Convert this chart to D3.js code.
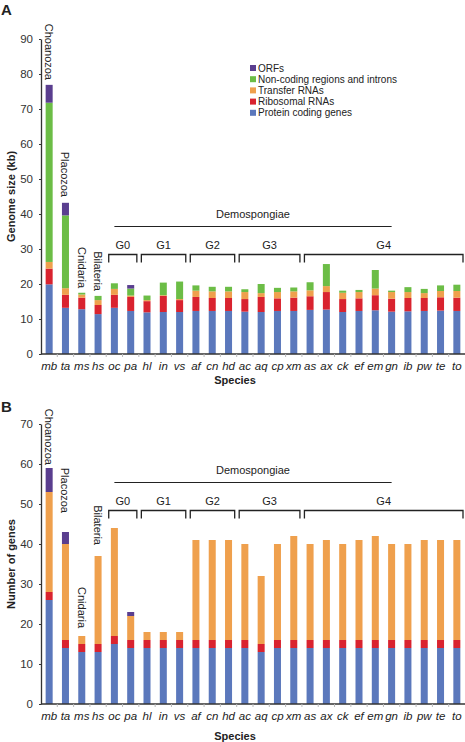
<!DOCTYPE html>
<html>
<head>
<meta charset="utf-8">
<script src="https://cdn.jsdelivr.net/npm/d3@7"></script>
<style>
  body { margin: 0; background: #fff; }
  svg { display: block; font-family: "Liberation Sans", Arial, sans-serif; }
</style>
</head>
<body>
<svg id="chart" width="465" height="742"></svg>
<script>
// ---------- DATA ----------
const species = ["mb","ta","ms","hs","oc","pa","hl","in","vs","af","cn","hd","ac","aq","cp","xm","as","ax","ck","ef","em","gn","ib","pw","te","to"];
const seriesNames = ["Protein coding genes","Ribosomal RNAs","Transfer RNAs","Non-coding regions and introns","ORFs"];
const seriesColors = ["#5b78bc","#d9232f","#efa04d","#6cbd46","#5a3e8f"];

// Panel A: genome size (kb)
const sizeProtein = [19.9,13.2,12.8,11.4,13.2,12.3,11.9,12.0,12.0,12.3,12.3,12.3,12.1,12.0,12.3,12.3,12.6,12.7,12.0,12.3,12.5,12.1,12.2,12.3,12.4,12.3];
const sizeRibo    = [4.5,3.7,3.3,2.6,3.7,4.0,3.2,4.6,3.4,4.0,3.7,3.7,3.6,4.3,3.6,3.8,3.9,5.0,3.7,3.6,4.3,3.7,3.8,3.7,3.8,3.8];
const sizeTrna    = [1.9,1.9,0.9,1.4,1.7,0.4,0.3,0.2,0.3,1.8,1.9,1.9,2.0,1.1,1.8,1.8,1.7,1.7,1.8,1.8,1.9,1.9,1.7,1.4,1.8,1.9];
const sizeNoncod  = [45.5,20.8,0.5,1.2,1.6,2.0,1.3,3.6,5.0,1.5,1.3,1.3,0.8,2.6,1.2,1.1,2.3,6.3,0.6,0.6,5.3,0.4,1.4,1.2,1.6,1.8];
const sizeOrf     = [5.1,3.6,0,0,0,1.0,0,0,0,0,0,0,0,0,0,0,0,0,0,0,0,0,0,0,0,0];

// Panel B: number of genes
const genesProtein = [26,14,13,13,15,14,14,14,14,14,14,14,14,13,14,14,14,14,14,14,14,14,14,14,14,14];
const genesRibo    = [2,2,2,2,2,2,2,2,2,2,2,2,2,2,2,2,2,2,2,2,2,2,2,2,2,2];
const genesTrna    = [25,24,2,22,27,6,2,2,2,25,25,25,24,17,24,26,24,25,24,25,26,24,24,25,25,25];
const genesNoncod  = [0,0,0,0,0,0,0,0,0,0,0,0,0,0,0,0,0,0,0,0,0,0,0,0,0,0];
const genesOrf     = [6,3,0,0,0,1,0,0,0,0,0,0,0,0,0,0,0,0,0,0,0,0,0,0,0,0];

const ticksA = [0,10,20,30,40,50,60,70,80,90];
const ticksB = [0,10,20,30,40,50,60,70];

const taxonLabels = ["Choanozoa","Placozoa","Cnidaria","Bilateria"];
const taxonSpecies = ["mb","ta","ms","hs"];
const groupNames = ["G0","G1","G2","G3","G4"];
const groupStart = ["oc","hl","af","ac","as"];
const groupEnd   = ["pa","vs","hd","xm","to"];

// ---------- DRAW ----------
const svg = d3.select("#chart");
const x = d3.scaleBand().domain(species).range([41, 465]).paddingInner(0.57).paddingOuter(0.285);
const step = x.step();

function panel(cfg) {
  const g = svg.append("g");
  const y = d3.scaleLinear().domain(cfg.domain).range(cfg.range);
  const cols = cfg.series;
  const rows = species.map((s, i) => {
    const o = { sp: s };
    seriesNames.forEach((n, k) => o[n] = cols[k][i]);
    return o;
  });
  const stack = d3.stack().keys(seriesNames)(rows);

  // bars
  g.selectAll("g.layer").data(stack).join("g")
    .attr("fill", (d, k) => seriesColors[k])
    .selectAll("rect").data(d => d.filter(v => v[1] - v[0] > 0)).join("rect")
    .attr("x", d => x(d.data.sp))
    .attr("width", x.bandwidth())
    .attr("y", d => y(d[1]))
    .attr("height", d => y(d[0]) - y(d[1]));

  // y axis
  const ya = g.append("g").attr("transform", `translate(41,0)`)
    .call(d3.axisLeft(y).tickValues(cfg.ticks).tickSize(2).tickPadding(6).tickSizeOuter(0));
  ya.select(".domain").attr("stroke", "#333").attr("stroke-width", 1.3);
  ya.selectAll(".tick line").attr("stroke", "#333");
  ya.selectAll("text").attr("font-size", 11.5).attr("fill", "#333").attr("font-family", "Liberation Sans, Arial, sans-serif");

  // x axis
  const y0 = y(0);
  g.append("line").attr("x1", 41).attr("x2", 465).attr("y1", y0).attr("y2", y0)
    .attr("stroke", "#333").attr("stroke-width", 1.3);
  g.selectAll("line.xt").data(species.slice(1)).join("line")
    .attr("x1", d => x(d) - step * x.paddingInner() / 2)
    .attr("x2", d => x(d) - step * x.paddingInner() / 2)
    .attr("y1", y0).attr("y2", y0 + 3).attr("stroke", "#bbb").attr("stroke-width", 1);
  g.selectAll("text.xl").data(species).join("text")
    .attr("x", d => x(d) + x.bandwidth() / 2).attr("y", y0 + 16)
    .attr("text-anchor", "middle").attr("font-size", 11.5).attr("font-style", "italic").attr("fill", "#222")
    .text(d => d);

  g.append("text").attr("x", 235).attr("y", cfg.xTitleY).attr("text-anchor", "middle")
    .attr("font-size", 11).attr("font-weight", "bold").attr("fill", "#222").text("Species");
  g.append("text").attr("transform", `translate(15,${(cfg.range[0] + cfg.range[1]) / 2}) rotate(-90)`)
    .attr("text-anchor", "middle").attr("font-size", 11).attr("font-weight", "bold").attr("fill", "#222")
    .text(cfg.yTitle);
  g.append("text").attr("x", 1).attr("y", cfg.letterY).attr("font-size", 15).attr("font-weight", "bold")
    .attr("fill", "#222").text(cfg.letter);

  // taxon labels (vertical)
  taxonSpecies.forEach((s, k) => {
    const cx = x(s) + x.bandwidth() / 2;
    const ty = cfg.taxonEnd[k];
    g.append("text").attr("transform", `translate(${cx},${ty}) rotate(90)`)
      .attr("text-anchor", "end").attr("dominant-baseline", "central")
      .attr("font-size", 11).attr("fill", "#222").text(taxonLabels[k]);
  });

  // Demospongiae
  const dx1 = x("oc") + x.bandwidth() / 2, dx2 = x("gn") + x.bandwidth() / 2;
  g.append("line").attr("x1", dx1).attr("x2", dx2).attr("y1", cfg.demoY).attr("y2", cfg.demoY)
    .attr("stroke", "#222").attr("stroke-width", 1.2);
  g.append("text").attr("x", (dx1 + dx2) / 2).attr("y", cfg.demoY - 9).attr("text-anchor", "middle")
    .attr("font-size", 11).attr("fill", "#222").text("Demospongiae");

  // group brackets
  groupNames.forEach((n, k) => {
    const a = x(groupStart[k]) - step * x.paddingInner() / 2 + 2.5;
    const b = x(groupEnd[k]) + x.bandwidth() + step * x.paddingInner() / 2 - 2;
    const by = cfg.brY;
    g.append("path").attr("d", `M${a},${by + 8}V${by}H${b}V${by + 8}`)
      .attr("fill", "none").attr("stroke", "#222").attr("stroke-width", 1.3);
    g.append("text").attr("x", (a + b) / 2).attr("y", by - 6).attr("text-anchor", "middle")
      .attr("font-size", 11).attr("fill", "#222").text(n);
  });
  return y;
}

const sizeSeries = [sizeProtein, sizeRibo, sizeTrna, sizeNoncod, sizeOrf];
const geneSeries = [genesProtein, genesRibo, genesTrna, genesNoncod, genesOrf];

panel({ domain: [0, 90], range: [354, 39], ticks: ticksA, series: sizeSeries,
        yTitle: "Genome size (kb)", letter: "A", letterY: 15, xTitleY: 384,
        taxonEnd: [80, 197, 288, 291], demoY: 226.5, brY: 254.5 });
panel({ domain: [0, 70], range: [704, 424], ticks: ticksB, series: geneSeries,
        yTitle: "Number of genes", letter: "B", letterY: 412, xTitleY: 740,
        taxonEnd: [465, 513, 628, 545], demoY: 482.5, brY: 510.5 });

// legend (top panel)
const legOrder = [4, 3, 2, 1, 0];
const leg = svg.append("g");
legOrder.forEach((k, i) => {
  const ly = 68 + i * 11.2;
  leg.append("rect").attr("x", 250).attr("y", ly - 3).attr("width", 6).attr("height", 6).attr("fill", seriesColors[k]);
  leg.append("text").attr("x", 258).attr("y", ly + 3.5).attr("font-size", 10).attr("fill", "#222").text(seriesNames[k]);
});
</script>
</body>
</html>
